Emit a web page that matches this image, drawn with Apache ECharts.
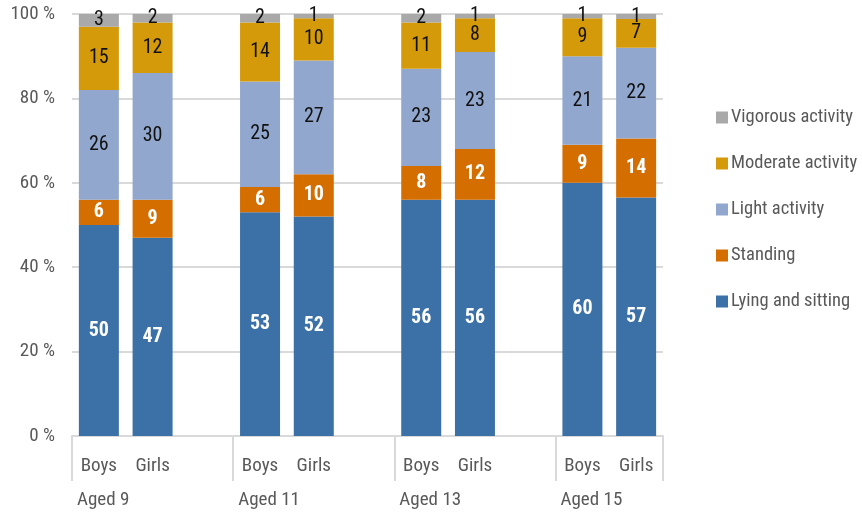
<!DOCTYPE html>
<html>
<head>
<meta charset="utf-8">
<script src="https://cdn.jsdelivr.net/npm/echarts@6/dist/echarts.min.js"></script>
<style>
  html, body { margin: 0; padding: 0; background: #fff; }
  #main { width: 862px; height: 515px; }
</style>
</head>
<body>
<div id="main"></div>
<script>
// one slot per bar, empty slot between age groups
const categories = ['Boys', 'Girls', '', 'Boys', 'Girls', '', 'Boys', 'Girls', '', 'Boys', 'Girls']
const ageGroups = ['Aged 9', 'Aged 11', 'Aged 13', 'Aged 15']
const groupStarts = [0, 3, 6, 9]
const groupEdges = [0, 3, 6, 9, 11]
const yTicks = [0, 20, 40, 60, 80, 100]

// shares in %, labels show the rounded value
const lyingSitting = [50, 47, '-', 53, 52, '-', 56, 56, '-', 60, 56.5]
const standing = [6, 9, '-', 6, 10, '-', 8, 12, '-', 9, 14]
const lightActivity = [26, 30, '-', 25, 27, '-', 23, 23, '-', 21, 21.5]
const moderateActivity = [15, 12, '-', 14, 10, '-', 11, 8, '-', 9, 6.8]
const vigorousActivity = [3, 2, '-', 2, 1, '-', 2, 1, '-', 1, 1.2]

const font = '"Liberation Sans Narrow", "Roboto Condensed", Roboto, sans-serif'
const grey = '#595959'

function makeSeries(name, data, color, labelColor) {
  return {
    name: name,
    type: 'bar',
    stack: 'total',
    barWidth: 40,
    data: data,
    itemStyle: { color: color },
    label: {
      show: true,
      position: 'inside',
      color: labelColor,
      fontFamily: font,
      fontSize: 20,
      fontWeight: labelColor === '#fff' ? 'bold' : 'normal',
      formatter: function (p) { return Math.round(p.value) }
    }
  }
}

const chart = echarts.init(document.getElementById('main'))
chart.setOption({
  animation: false,
  textStyle: { fontFamily: font },
  grid: { left: 72, right: 199, top: 14, bottom: 79 },
  legend: {
    orient: 'vertical',
    left: 711,
    top: 103,
    itemWidth: 12,
    itemHeight: 12,
    itemGap: 27,
    icon: 'rect',
    textStyle: { color: grey, fontSize: 18.5, fontFamily: font, padding: [0, 0, 0, -2] },
    data: ['Vigorous activity', 'Moderate activity', 'Light activity', 'Standing', 'Lying and sitting']
  },
  xAxis: [
    {
      type: 'category',
      data: categories,
      axisLine: { lineStyle: { color: '#d9d9d9', width: 2 } },
      axisTick: { show: false },
      axisLabel: { interval: 0, color: grey, fontSize: 19, margin: 21, fontFamily: font }
    },
    {
      type: 'value',
      min: 0,
      max: 11,
      position: 'bottom',
      axisLine: { show: false },
      splitLine: { show: false },
      axisTick: {
        show: true,
        length: 45,
        customValues: groupEdges,
        lineStyle: { color: '#d9d9d9', width: 2 }
      },
      axisLabel: {
        customValues: groupStarts,
        formatter: function (v) { return ageGroups[groupStarts.indexOf(v)] || '' },
        align: 'left',
        padding: [0, 0, 0, 5],
        margin: 55,
        color: grey,
        fontSize: 19,
        fontFamily: font
      }
    }
  ],
  yAxis: {
    type: 'value',
    min: 0,
    max: 100,
    interval: 20,
    axisLine: { show: false },
    axisTick: { show: false },
    splitLine: { lineStyle: { color: '#d9d9d9', width: 2 } },
    axisLabel: {
      color: grey,
      fontSize: 19,
      margin: 17,
      fontFamily: font,
      formatter: function (v) { return yTicks.indexOf(v) >= 0 ? v + ' %' : '' }
    }
  },
  series: [
    makeSeries('Lying and sitting', lyingSitting, '#3b71a6', '#fff'),
    makeSeries('Standing', standing, '#d46e00', '#fff'),
    makeSeries('Light activity', lightActivity, '#91a7cd', '#111'),
    makeSeries('Moderate activity', moderateActivity, '#d49a0a', '#111'),
    makeSeries('Vigorous activity', vigorousActivity, '#a9a9a9', '#111')
  ]
})
</script>
</body>
</html>
